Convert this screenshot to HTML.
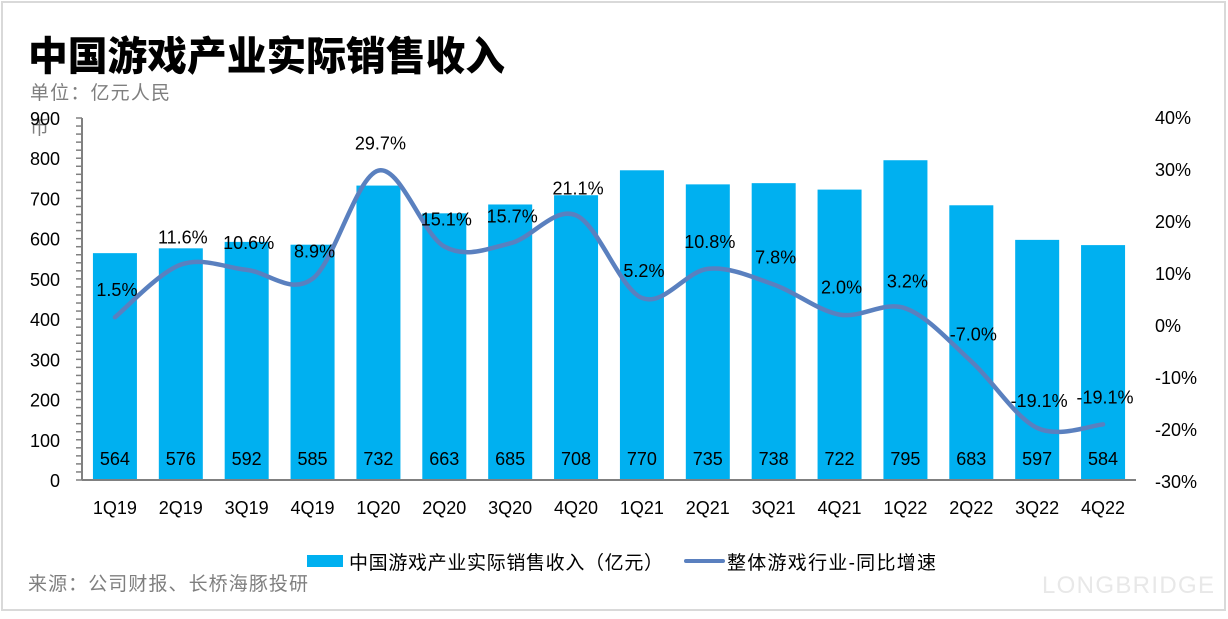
<!DOCTYPE html>
<html><head><meta charset="utf-8">
<style>
body{margin:0;width:1228px;height:614px;background:#fff;overflow:hidden;font-family:"Liberation Sans","Noto Sans CJK SC",sans-serif;}
svg text{font-family:"Liberation Sans","Noto Sans CJK SC",sans-serif;}
</style></head><body>
<svg id="chart" width="1228" height="614" xmlns="http://www.w3.org/2000/svg">
<rect x="2" y="2" width="1223" height="608" fill="#fff" stroke="#d9d9d9" stroke-width="2"/>
<text x="28" y="70" font-size="40" font-weight="900" fill="#000" textLength="477" lengthAdjust="spacingAndGlyphs">中国游戏产业实际销售收入</text>
<text x="30" y="99" font-size="19" fill="#7f7f7f" textLength="140">单位：亿元人民</text>
<text x="30" y="134" font-size="19" fill="#7f7f7f">币</text>
<g id="left-axis"></g>
<g id="right-axis"></g>
<g id="bars"></g>
<g id="line"></g>
<g id="xlabels"></g>
<g>
<rect x="307" y="555" width="36" height="12" fill="#00B0F0"/>
<text x="349" y="569" font-size="19" fill="#000" textLength="314">中国游戏产业实际销售收入（亿元）</text>
<line x1="686" y1="561" x2="723" y2="561" stroke="#5a80bf" stroke-width="4" stroke-linecap="round"/>
<text x="727" y="569" font-size="19" fill="#000" textLength="209">整体游戏行业-同比增速</text>
</g>
<text x="28" y="590" font-size="19" fill="#7f7f7f" textLength="280">来源：公司财报、长桥海豚投研</text>
<text x="1042" y="593" font-size="24" fill="#e8e8e8" textLength="172">LONGBRIDGE</text>
</svg>
<script>
const categories=["1Q19","2Q19","3Q19","4Q19","1Q20","2Q20","3Q20","4Q20","1Q21","2Q21","3Q21","4Q21","1Q22","2Q22","3Q22","4Q22"];
const revenue=[564,576,592,585,732,663,685,708,770,735,738,722,795,683,597,584];
const growth=[1.5,11.6,10.6,8.9,29.7,15.1,15.7,21.1,5.2,10.8,7.8,2.0,3.2,-7.0,-19.1,-19.1];
const growthLine=[1.5,11.6,10.6,8.9,29.7,15.1,15.7,21.1,5.2,10.8,7.8,2.0,3.2,-7.0,-19.8,-19.1];
const leftTicks=[0,100,200,300,400,500,600,700,800,900];
const rightTicks=[-30,-20,-10,0,10,20,30,40];

const NS="http://www.w3.org/2000/svg";
const X0=82,X1=1136,YB=480;
const step=(X1-X0)/categories.length;
const xC=i=>X0+step*(i+0.5);
const yL=v=>YB-v*(362/900);
const yR=v=>325-v*5.2;
function mk(tag,attrs,parent,txt){const e=document.createElementNS(NS,tag);for(const k in attrs)e.setAttribute(k,attrs[k]);if(txt!==undefined)e.textContent=txt;parent.appendChild(e);return e;}
const la=document.getElementById('left-axis'),ra=document.getElementById('right-axis'),bg=document.getElementById('bars'),lg=document.getElementById('line'),xl=document.getElementById('xlabels');

let t=mk('line',{x1:X0,y1:yL(900),x2:X0,y2:YB,stroke:'#808080','stroke-width':2},la);


for(let v=0;v<=900;v+=20){const m=mk('line',{x1:X0-6,y1:yL(v),x2:X0,y2:yL(v),stroke:'#808080','stroke-width':1.5},la);

}
leftTicks.forEach(v=>{const e=mk('text',{x:60,y:yL(v)+7,'font-size':18,'text-anchor':'end',fill:'#000'},la,String(v));

});
rightTicks.forEach(v=>{const e=mk('text',{x:1155,y:yR(v)+7,'font-size':18,fill:'#000'},ra,v+'%');

});

revenue.forEach((v,i)=>{
 const r=mk('rect',{x:xC(i)-22,y:yL(v),width:44,height:YB-yL(v),fill:'#00B0F0'},bg);
 
 
 const tx=mk('text',{x:xC(i),y:465,'font-size':18,'text-anchor':'middle',fill:'#000'},bg,String(v));
 
 
 const c=mk('text',{x:xC(i),y:514,'font-size':18,'text-anchor':'middle',fill:'#000'},xl,categories[i]);
 
 
});
const ax=mk('line',{x1:X0,y1:YB,x2:X1,y2:YB,stroke:'#808080','stroke-width':2},bg);



const pts=growthLine.map((v,i)=>[xC(i),yR(v)]);
let d='M'+pts[0][0]+','+pts[0][1];
for(let i=0;i<pts.length-1;i++){const p0=pts[Math.max(0,i-1)],p1=pts[i],p2=pts[i+1],p3=pts[Math.min(pts.length-1,i+2)];
 const c1=[p1[0]+(p2[0]-p0[0])/6,p1[1]+(p2[1]-p0[1])/6],c2=[p2[0]-(p3[0]-p1[0])/6,p2[1]-(p3[1]-p1[1])/6];
 d+=` C${c1[0]},${c1[1]} ${c2[0]},${c2[1]} ${p2[0]},${p2[1]}`;}
const path=mk('path',{d:d,fill:'none',stroke:'#5a80bf','stroke-width':4.5,'stroke-linecap':'round'},lg);


growth.forEach((v,i)=>{const e=mk('text',{x:xC(i)+2,y:yR(growthLine[i])-21,'font-size':18,'text-anchor':'middle',fill:'#000'},lg,v.toFixed(1)+'%');

});
</script>
</body></html>
